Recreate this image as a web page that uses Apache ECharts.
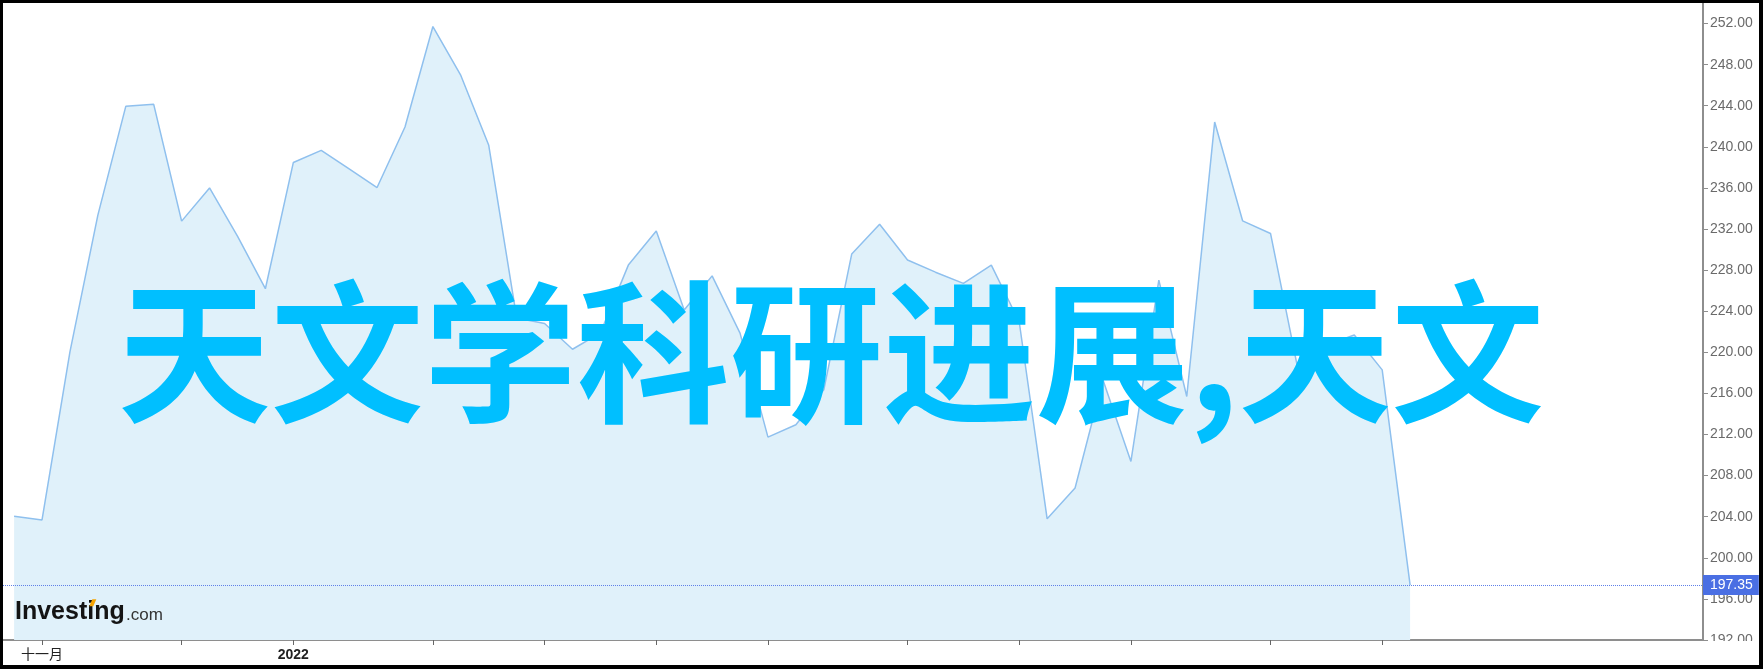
<!DOCTYPE html>
<html><head><meta charset="utf-8">
<script src="https://cdn.jsdelivr.net/npm/echarts@6/dist/echarts.min.js"></script>
<style>
html,body{margin:0;padding:0;background:#000;width:1763px;height:669px;overflow:hidden}
#chart{position:absolute;left:3px;top:3px;width:1756px;height:662px;background:#fff}
</style></head><body><div id="chart"></div>
<script>
// weekly observations
const weeks = ['2021-10-25','2021-11-01','2021-11-08','2021-11-15','2021-11-22','2021-11-29','2021-12-06','2021-12-13','2021-12-20','2021-12-27',
  '2022-01-03','2022-01-10','2022-01-17','2022-01-24','2022-01-31','2022-02-07','2022-02-14','2022-02-21','2022-02-28',
  '2022-03-07','2022-03-14','2022-03-21','2022-03-28','2022-04-04','2022-04-11','2022-04-18','2022-04-25',
  '2022-05-02','2022-05-09','2022-05-16','2022-05-23','2022-05-30','2022-06-06','2022-06-13','2022-06-20','2022-06-27',
  '2022-07-04','2022-07-11','2022-07-18','2022-07-25','2022-08-01','2022-08-08','2022-08-15','2022-08-22','2022-08-29',
  '2022-09-05','2022-09-12','2022-09-19','2022-09-26','2022-10-03','2022-10-10'];
const prices = [204.04,203.69,220.04,233.35,243.94,244.14,232.77,236.00,231.30,226.19,
  238.47,239.66,237.85,236.04,241.93,251.71,246.95,240.15,223.35,
  222.80,220.30,221.89,228.49,231.80,224.12,227.44,221.87,
  211.75,212.95,216.35,229.56,232.47,228.98,227.80,226.71,228.49,
  222.95,203.79,206.80,217.30,209.38,227.03,215.70,242.41,232.80,
  231.57,218.10,220.70,221.69,218.29,197.35];
const lastPrice = 197.35;
const monthTickWeeks = ['2021-11-01','2021-12-06','2022-01-03','2022-02-07','2022-03-07','2022-04-04',
  '2022-05-02','2022-06-06','2022-07-04','2022-08-01','2022-09-05','2022-10-03'];
const xLabelWeeks = ['2021-11-01','2022-01-03'];
const xLabelTexts = ['十一月','2022'];
const yMin = 192, yMax = 254, yStep = 4;
const watermarkText = '天文学科研进展,天文';
const logoMain = 'Investing', logoSuffix = '.com';

const chart = echarts.init(document.getElementById('chart'));
const tickIdx = monthTickWeeks.map(d => weeks.indexOf(d));
const labelIdx = xLabelWeeks.map(d => weeks.indexOf(d));
const font = 'Arial, "Liberation Sans", "Noto Sans CJK SC", sans-serif';

chart.setOption({
  animation: false,
  grid: {left: 0, right: 56, top: 0, bottom: 25, containLabel: false, outerBoundsMode: 'none'},
  xAxis: {
    type: 'value', min: -0.3976, max: 60.49,
    axisLine: {show: true, onZero: false, lineStyle: {color: '#8e8e8e', width: 2}},
    axisTick: {show: true, customValues: tickIdx, length: 5, lineStyle: {color: '#666', width: 1}},
    axisLabel: {
      customValues: labelIdx, fontSize: 14, color: '#222', margin: 8, fontFamily: font,
      formatter: v => { const k = labelIdx.indexOf(v); return k === 1 ? '{b|' + xLabelTexts[k] + '}' : (k >= 0 ? xLabelTexts[k] : ''); },
      rich: {b: {fontWeight: 'bold', fontSize: 14, color: '#222', fontFamily: font}}
    },
    splitLine: {show: false}
  },
  yAxis: {
    type: 'value', position: 'right', min: yMin, max: yMax, interval: yStep,
    axisLine: {show: true, onZero: false, lineStyle: {color: '#8e8e8e', width: 2}},
    axisTick: {show: true, length: 5, lineStyle: {color: '#8e8e8e', width: 1}},
    axisLabel: {color: '#6a6a6a', fontSize: 14, margin: 7, fontFamily: font, showMaxLabel: false,
      formatter: v => v.toFixed(2)},
    splitLine: {show: false}
  },
  series: [{
    type: 'line', symbol: 'none',
    data: weeks.map((w, i) => [i, prices[i]]),
    lineStyle: {color: '#8fc0ee', width: 1.5},
    areaStyle: {color: '#e0f1fa', opacity: 1},
    markLine: {
      silent: true, symbol: 'none', animation: false,
      data: [{yAxis: lastPrice}],
      lineStyle: {color: '#5f80e8', width: 1, type: [1, 1]},
      label: {position: 'end', distance: 0, formatter: lastPrice.toFixed(2), color: '#fff', fontSize: 14, fontFamily: font,
        backgroundColor: '#4a6fe3', padding: [3, 6, 3, 7]}
    }
  }],
  graphic: [
    {type: 'rect', z: 100, shape: {x: 1701, y: 638, width: 60, height: 30}, style: {fill: '#fff'}},
    {type: 'text', z: 50, style: {text: logoMain, x: 12, y: 609.5, font: 'bold 25px "Liberation Sans", Arial', fill: '#141414', verticalAlign: 'middle'}},
    {type: 'text', z: 50, style: {text: logoSuffix, x: 123, y: 612.2, font: '17px "Liberation Sans", Arial', fill: '#333', verticalAlign: 'middle'}},
    {type: 'polygon', z: 51, shape: {points: [[86.3, 603.2], [89.3, 596.2], [93.3, 596.2], [90.3, 603.2]]}, style: {fill: '#f5a300'}},
    {type: 'text', z: 60, style: {text: watermarkText, x: 828, y: 350, font: 'bold 153px "Noto Sans CJK SC"', fill: '#00bfff', align: 'center', verticalAlign: 'middle'}}
  ]
});
</script></body></html>
